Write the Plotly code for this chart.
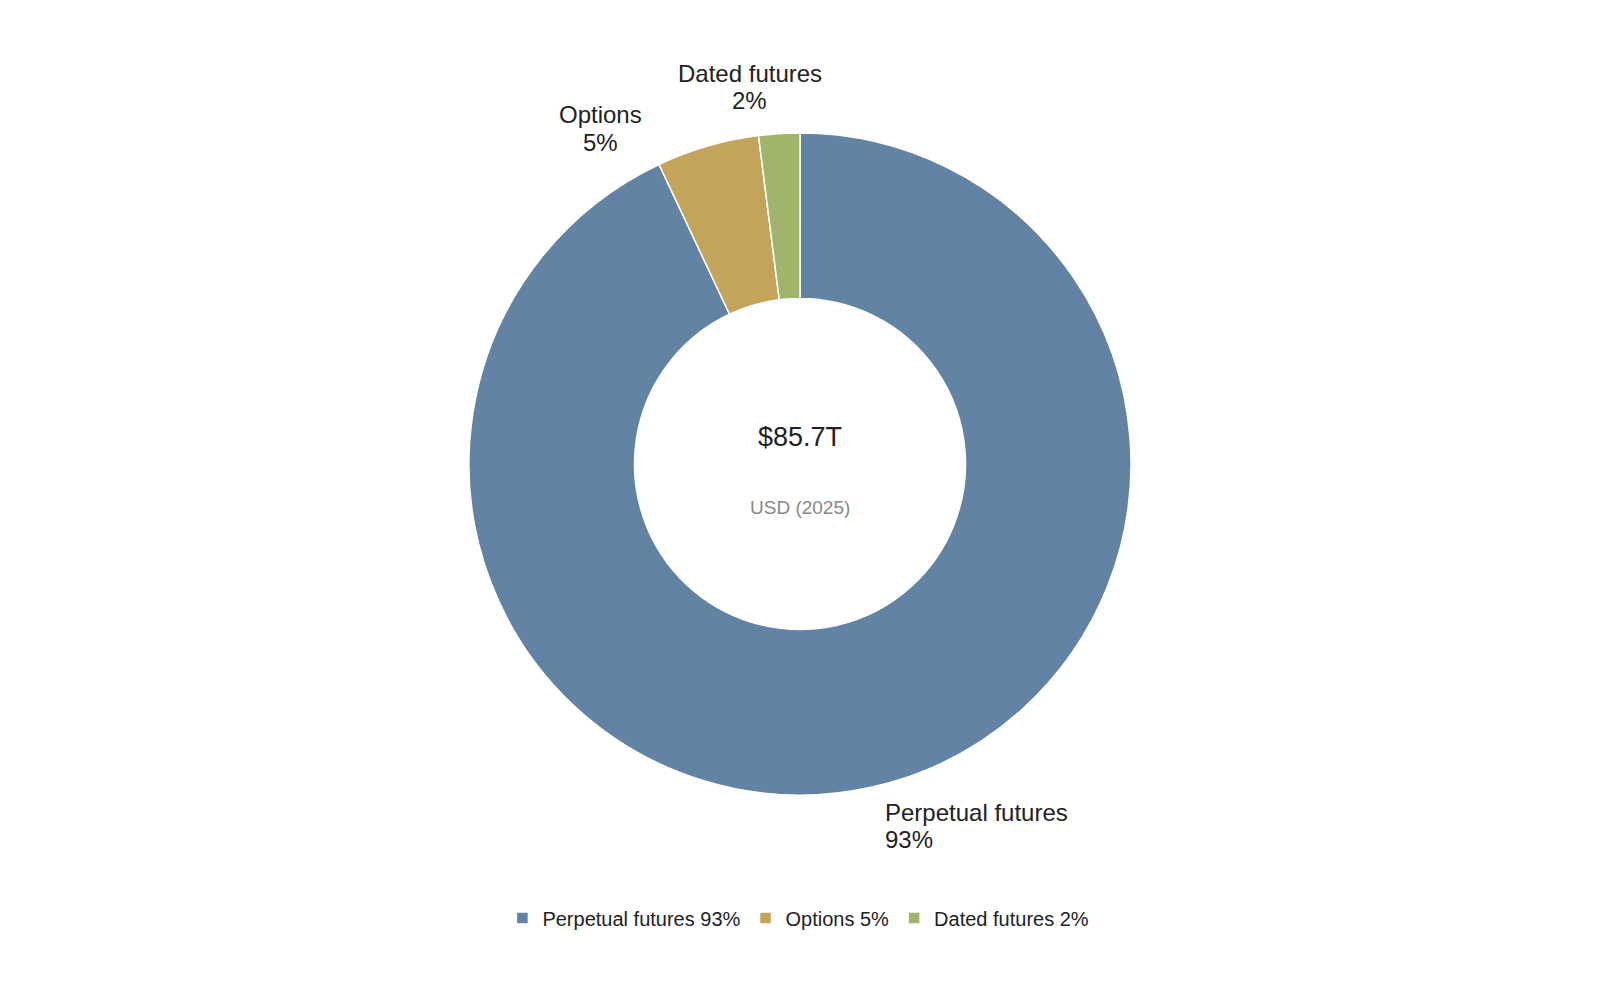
import plotly.graph_objects as go

categories = ["Perpetual futures", "Options", "Dated futures"]
shares = [93, 5, 2]
total_label = "$85.7T"
sub_label = "USD (2025)"

# style / layout
colors = ["#6283a3", "#c4a45a", "#a0b46c"]
# label anchor positions in paper coords: (x, y_name, y_pct, xanchor)
label_pos = [
    (0.5467, 0.1950, 0.1685, "left"),
    (0.370, 0.8930, 0.8655, "center"),
    (0.4637, 0.9345, 0.9075, "center"),
]

fig = go.Figure()
fig.add_trace(go.Pie(
    labels=[f"{c} {v}%" for c, v in zip(categories, shares)],
    values=shares,
    hole=0.5,
    sort=False,
    direction="clockwise",
    rotation=0,
    marker=dict(colors=colors, line=dict(color="#ffffff", width=1.5)),
    textinfo="none",
    domain=dict(x=[0, 0.99], y=[0.213, 0.875]),
    showlegend=True,
    hoverinfo="label",
))

for (c, v), (x, yn, yp, xa) in zip(zip(categories, shares), label_pos):
    fig.add_annotation(text=c, x=x, y=yn, xref="paper", yref="paper", xanchor=xa,
                       yanchor="middle", showarrow=False,
                       font=dict(size=24, color="#222222"))
    fig.add_annotation(text=f"{v}%", x=x, y=yp, xref="paper", yref="paper", xanchor=xa,
                       yanchor="middle", showarrow=False,
                       font=dict(size=24, color="#222222"))

fig.add_annotation(text=total_label, x=0.495, y=0.571, xref="paper", yref="paper",
                   showarrow=False, font=dict(size=27, color="#222222"))
fig.add_annotation(text=sub_label, x=0.495, y=0.501, xref="paper", yref="paper",
                   showarrow=False, font=dict(size=19, color="#888888"))

fig.update_layout(
    width=1600, height=1000,
    margin=dict(l=0, r=0, t=0, b=0),
    paper_bgcolor="white", plot_bgcolor="white",
    font=dict(family="Liberation Sans, Arial, sans-serif", color="#222222"),
    legend=dict(orientation="h", x=0.494, xanchor="center", y=0.09, yanchor="middle",
                font=dict(size=20, color="#222222"), itemwidth=30),
)

fig.write_html("out.html")
